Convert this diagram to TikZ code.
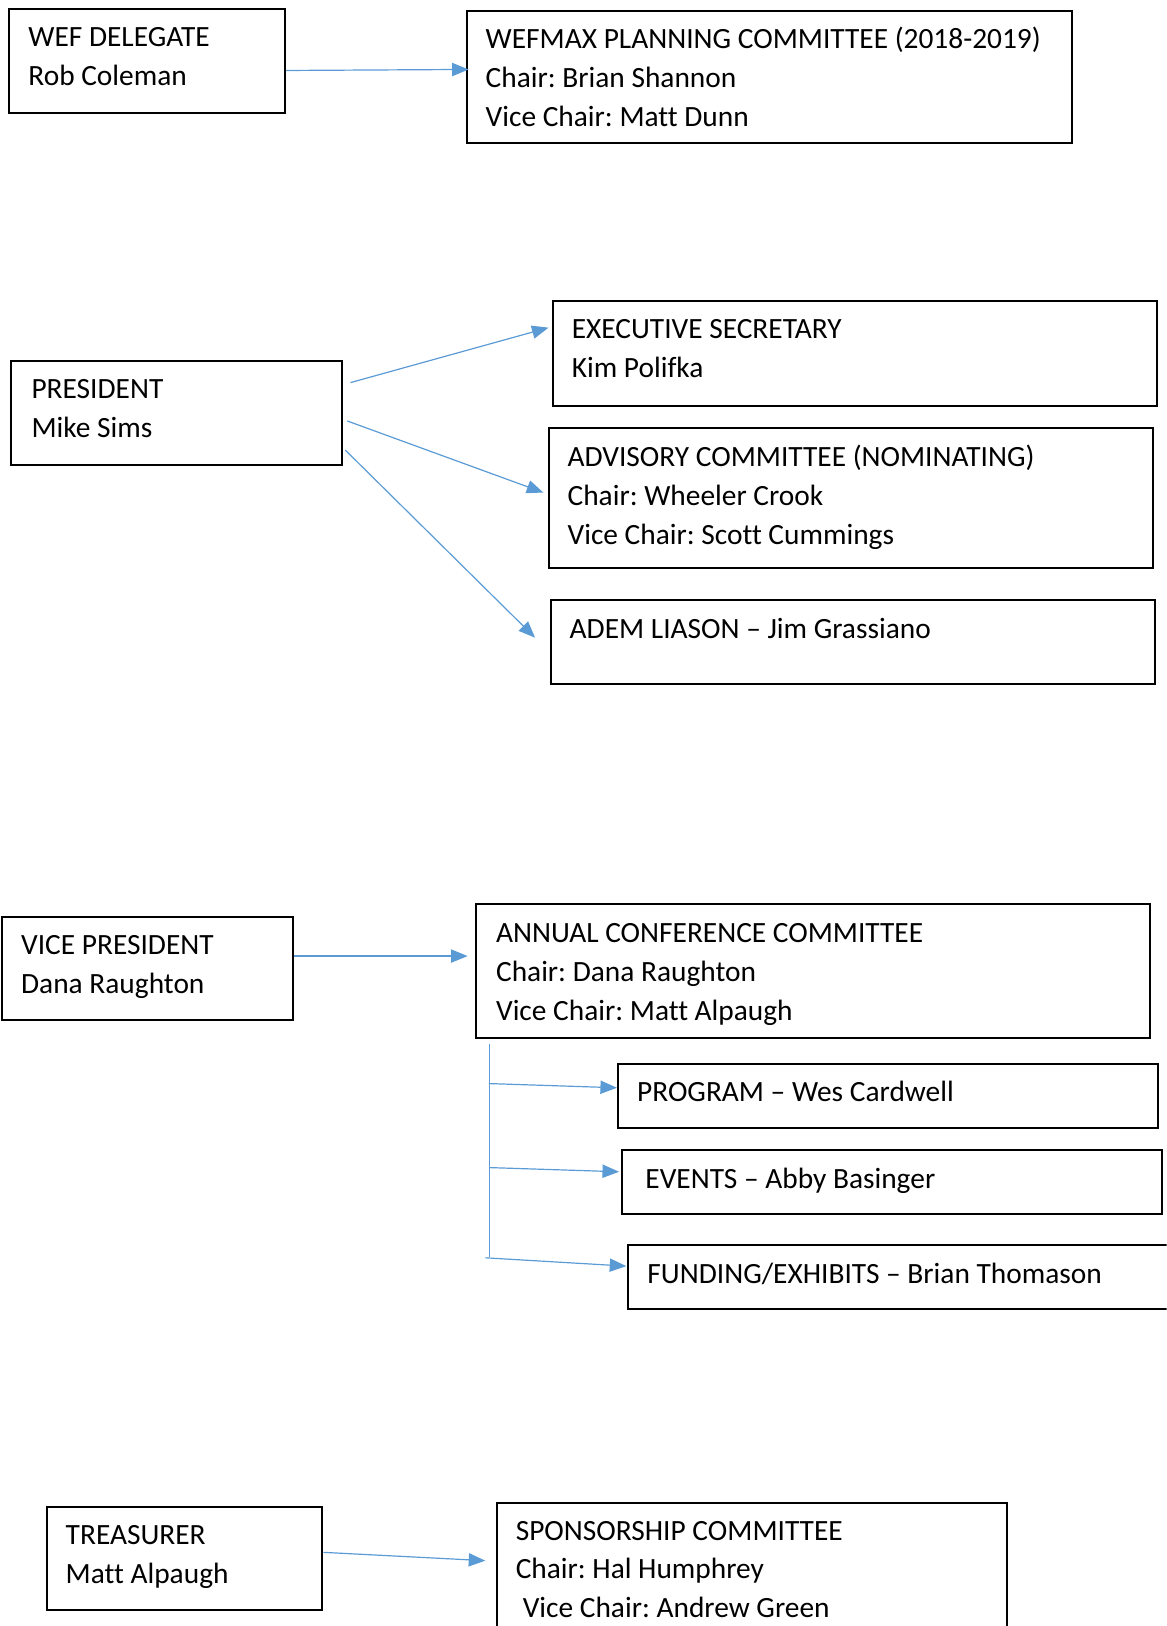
\documentclass[tikz,border=0pt]{standalone}
\usepackage{fontspec}
\setmainfont{Carlito}[Ligatures={TeX,NoCommon}]
\usetikzlibrary{arrows.meta,calc}
\definecolor{arrowblue}{HTML}{5B9BD5}
\frenchspacing
\begin{document}
\begin{tikzpicture}[x=0.51865pt,y=-0.51865pt,
  box/.style 2 args={draw=black,line width=1pt,inner sep=0pt,anchor=north west,
    minimum width=#1*0.51865pt,minimum height=#2*0.51865pt},
  txt/.style={inner sep=0pt,anchor=north west,align=left,
    font=\fontsize{14.7}{19.45}\selectfont\frenchspacing},
  arr/.style={draw=arrowblue,line width=0.6pt,-{Triangle[length=8.3pt,width=6.6pt]}},
  bus/.style={draw=arrowblue,line width=0.6pt}]
\useasboundingbox (0,0) rectangle (1125,1568);
\clip (0,0) rectangle (1125,1568);
% boxes
\node[box={266}{100}] (wef) at (8,8) {};
\node[box={584}{127}] (wefmax) at (449,10) {};
\node[box={319}{100}] (pres) at (10,347) {};
\node[box={583}{102}] (exec) at (532,289) {};
\node[box={583}{135}] (adv) at (528,412) {};
\node[box={583}{81}] (adem) at (530,578) {};
\node[box={281}{100}] (vp) at (1,883) {};
\node[box={650}{129}] (annual) at (458,871) {};
\node[box={521}{62}] (prog) at (595,1025) {};
\node[box={521}{62}] (events) at (599,1108) {};
\node[box={600}{61}] (fund) at (605,1200) {};
\node[box={266}{100}] (treas) at (44,1452) {};
\node[box={492}{200}] (spons) at (478,1448) {};
% texts
\node[txt] (wefT) at ($(wef.north west)+(19,10.5)$) {\strut WEF DELEGATE\\Rob Coleman};
\node[txt] (wefmaxT) at ($(wefmax.north west)+(19,10.5)$) {\strut WEFMAX PLANNING COMMITTEE (2018-2019)\\Chair: Brian Shannon\\Vice Chair: Matt Dunn};
\node[txt] (presT) at ($(pres.north west)+(20,10.5)$) {\strut PRESIDENT\\Mike Sims};
\node[txt] (execT) at ($(exec.north west)+(19,10.5)$) {\strut EXECUTIVE SECRETARY\\Kim Polifka};
\node[txt] (advT) at ($(adv.north west)+(19,11)$) {\strut ADVISORY COMMITTEE (NOMINATING)\\Chair: Wheeler Crook\\Vice Chair: Scott Cummings};
\node[txt] (ademT) at ($(adem.north west)+(19,11)$) {\strut ADEM LIASON – Jim Grassiano};
\node[txt] (vpT) at ($(vp.north west)+(19,10.5)$) {\strut VICE PRESIDENT\\Dana Raughton};
\node[txt] (annualT) at ($(annual.north west)+(20,11)$) {\strut ANNUAL CONFERENCE COMMITTEE\\Chair: Dana Raughton\\Vice Chair: Matt Alpaugh};
\node[txt] (progT) at ($(prog.north west)+(19,11)$) {\strut PROGRAM – Wes Cardwell};
\node[txt] (eventsT) at ($(events.north west)+(23,11)$) {\strut EVENTS – Abby Basinger};
\node[txt] (fundT) at ($(fund.north west)+(19,11)$) {\strut FUNDING/EXHIBITS – Brian Thomason};
\node[txt] (treasT) at ($(treas.north west)+(19,10.5)$) {\strut TREASURER\\Matt Alpaugh};
\node[txt] (sponsT) at ($(spons.north west)+(19,10.5)$) {\strut SPONSORSHIP COMMITTEE\\Chair: Hal Humphrey\\\hspace*{3.5pt}Vice Chair: Andrew Green};
% connectors
\draw[arr] ($(wef.east)+(0,9)$) -- ($(wefmax.west)+(3,-7.5)$);
\draw[arr] ($(pres.east)+(7,-29)$) -- ($(exec.west)+(-3,-25)$);
\draw[arr] ($(pres.east)+(4,8)$) -- ($(adv.west)+(-4,-5.5)$);
\draw[arr] ($(pres.east)+(2,36)$) -- ($(adem.west)+(-14,-4.5)$);
\draw[arr] ($(vp.east)+(0,-12)$) -- ($(annual.west)+(-7,-14.5)$);
\coordinate (bustop) at ($(annual.south west)+(14,5)$);
\coordinate (busbot) at ($(annual.south west)+(14,210)$);
\coordinate (b1) at ($(annual.south west)+(14,43)$);
\coordinate (b2) at ($(annual.south west)+(14,124)$);
\coordinate (b3) at ($(annual.south west)+(10,211)$);
\draw[bus] (bustop) -- (busbot);
\draw[arr] (b1) -- ($(prog.west)+(0,-8)$);
\draw[arr] (b2) -- ($(events.west)+(-2,-10)$);
\draw[arr] (b3) -- ($(fund.west)+(-1,-10.5)$);
\draw[arr] ($(treas.east)+(0,-6)$) -- ($(spons.north west)+(-10,57)$);
\end{tikzpicture}
\end{document}
